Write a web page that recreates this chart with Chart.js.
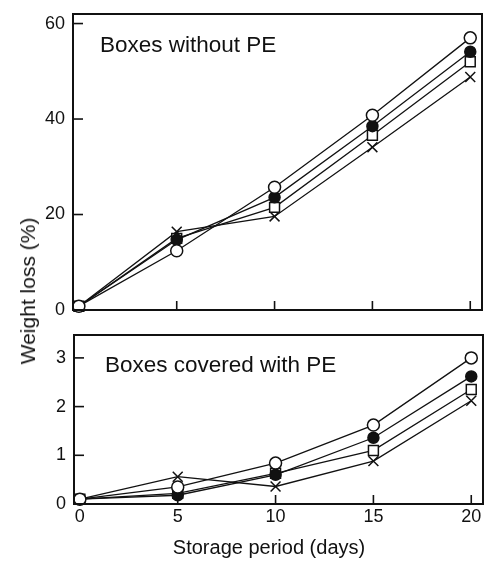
<!DOCTYPE html>
<html><head><meta charset="utf-8">
<script src="https://cdn.jsdelivr.net/npm/chart.js@4.4.1/dist/chart.umd.min.js"></script>
<style>
html,body{margin:0;padding:0;background:#fff}
body{width:485px;height:562px;position:relative;overflow:hidden}
#c1{position:absolute;left:0;top:0}
#c2{position:absolute;left:0;top:320px}
#ytitle{position:absolute;left:28px;top:291px;transform:translate(-50%,-50%) rotate(-90deg);font:21px "Liberation Sans",Arial,sans-serif;color:#111;white-space:nowrap}
</style></head>
<body>
<canvas id="c1" width="485" height="320"></canvas>
<canvas id="c2" width="485" height="242"></canvas>
<div id="ytitle">Weight loss (%)</div>
<script>
// ---- data ----
const days = [0, 5, 10, 15, 20];
const xTickValues = [0, 5, 10, 15, 20];
const topYTicks = [0, 20, 40, 60];
const botYTicks = [0, 1, 2, 3];
const topTitle = "Boxes without PE";
const botTitle = "Boxes covered with PE";
const xAxisTitle = "Storage period (days)";

const topOpenCircle   = [0.8, 12.4, 25.7, 40.8, 57.0];
const topFilledCircle = [0.8, 14.7, 23.6, 38.5, 54.1];
const topOpenSquare   = [0.8, 15.0, 21.5, 36.6, 52.0];
const topCross        = [0.8, 16.4, 19.6, 34.1, 48.8];

const botOpenCircle   = [0.1, 0.35, 0.84, 1.62, 3.00];
const botFilledCircle = [0.1, 0.18, 0.60, 1.36, 2.62];
const botOpenSquare   = [0.1, 0.22, 0.63, 1.10, 2.35];
const botCross        = [0.1, 0.56, 0.36, 0.88, 2.12];

const FONT = '"Liberation Sans", Arial, sans-serif';
Chart.defaults.font.family = FONT;
Chart.defaults.color = '#111';

function pts(vals){ return days.map((d,i)=>({x:d, y:vals[i]})); }
function ds(vals, style){
  const base = {data: pts(vals), borderColor:'#111', borderWidth:1.3, tension:0, fill:false, clip:false,
    pointBorderColor:'#111', pointBorderWidth:1.5, pointHoverRadius:0};
  if (style==='oc') return Object.assign(base,{pointStyle:'circle', pointRadius:6, pointBackgroundColor:'#fff', order:1});
  if (style==='fc') return Object.assign(base,{pointStyle:'circle', pointRadius:5.5, pointBackgroundColor:'#111', order:2});
  if (style==='sq') return Object.assign(base,{pointStyle:'rect', pointRadius:7, pointBackgroundColor:'#fff', order:3});
  return Object.assign(base,{pointStyle:'crossRot', pointRadius:7, pointBackgroundColor:'#fff', order:4});
}

const framePlugin = {
  id:'frame',
  afterDatasetsDraw(chart, args, opts){
    const {ctx, chartArea:a, scales} = chart;
    ctx.save();
    ctx.strokeStyle='#111'; ctx.lineWidth=2;
    ctx.strokeRect(a.left, a.top, a.right-a.left, a.bottom-a.top);
    ctx.lineWidth=1.6;
    opts.yTicks.forEach(v=>{
      if (v===scales.y.min) return;
      const py = scales.y.getPixelForValue(v);
      ctx.beginPath(); ctx.moveTo(a.left, py); ctx.lineTo(a.left+10, py); ctx.stroke();
    });
    xTickValues.forEach(v=>{
      if (v===0) return;
      const px = scales.x.getPixelForValue(v);
      ctx.beginPath(); ctx.moveTo(px, a.bottom); ctx.lineTo(px, a.bottom-9); ctx.stroke();
    });
    ctx.fillStyle='#111';
    ctx.font = '22.5px ' + FONT;
    ctx.textBaseline='alphabetic'; ctx.textAlign='left';
    ctx.fillText(opts.label, opts.lx, opts.ly);
    if (opts.xTitle) {
      ctx.font = '20px ' + FONT;
      ctx.textAlign='center'; ctx.textBaseline='middle';
      ctx.fillText(opts.xTitle, 269, 228);
    }
    ctx.restore();
  }
};

function makeChart(id, sets, yMin, yMax, yTicks, yWidth, xHeight, padTop, showX, label, lx, ly, padRight){
  return new Chart(document.getElementById(id), {
    type:'line',
    data:{datasets:sets},
    plugins:[framePlugin],
    options:{
      responsive:false, animation:false, devicePixelRatio:1,
      layout:{autoPadding:false, padding:{top:padTop, right:padRight, left:0, bottom:0}},
      plugins:{legend:{display:false}, tooltip:{enabled:false},
        frame:{yTicks, label, lx, ly, xTitle: showX ? xAxisTitle : null}},
      scales:{
        x:{type:'linear', min:-0.3, max:20.6,
          afterBuildTicks:s=>{ s.ticks = xTickValues.map(v=>({value:v})); },
          afterFit:s=>{ s.height = xHeight; s.paddingLeft = 0; s.paddingRight = 0; },
          grid:{display:false, drawTicks:false}, border:{display:false},
          ticks:{display:showX, padding:2, font:{size:18}, color:'#111', maxRotation:0}
        },
        y:{type:'linear', min:yMin, max:yMax,
          afterBuildTicks:s=>{ s.ticks = yTicks.map(v=>({value:v})); },
          afterFit:s=>{ s.width = yWidth; s.paddingTop = 0; s.paddingBottom = 0; },
          grid:{display:false, drawTicks:false}, border:{display:false},
          ticks:{padding:8, font:{size:18}, color:'#111'}
        }
      }
    }
  });
}

makeChart('c1', [ds(topOpenCircle,'oc'), ds(topFilledCircle,'fc'), ds(topOpenSquare,'sq'), ds(topCross,'x')],
  0, 62, topYTicks, 73, 10, 14, false, topTitle, 100, 52, 3);
makeChart('c2', [ds(botOpenCircle,'oc'), ds(botFilledCircle,'fc'), ds(botOpenSquare,'sq'), ds(botCross,'x')],
  0, 3.47, botYTicks, 74, 58, 15, true, botTitle, 105, 52, 2);
</script>
</body></html>
